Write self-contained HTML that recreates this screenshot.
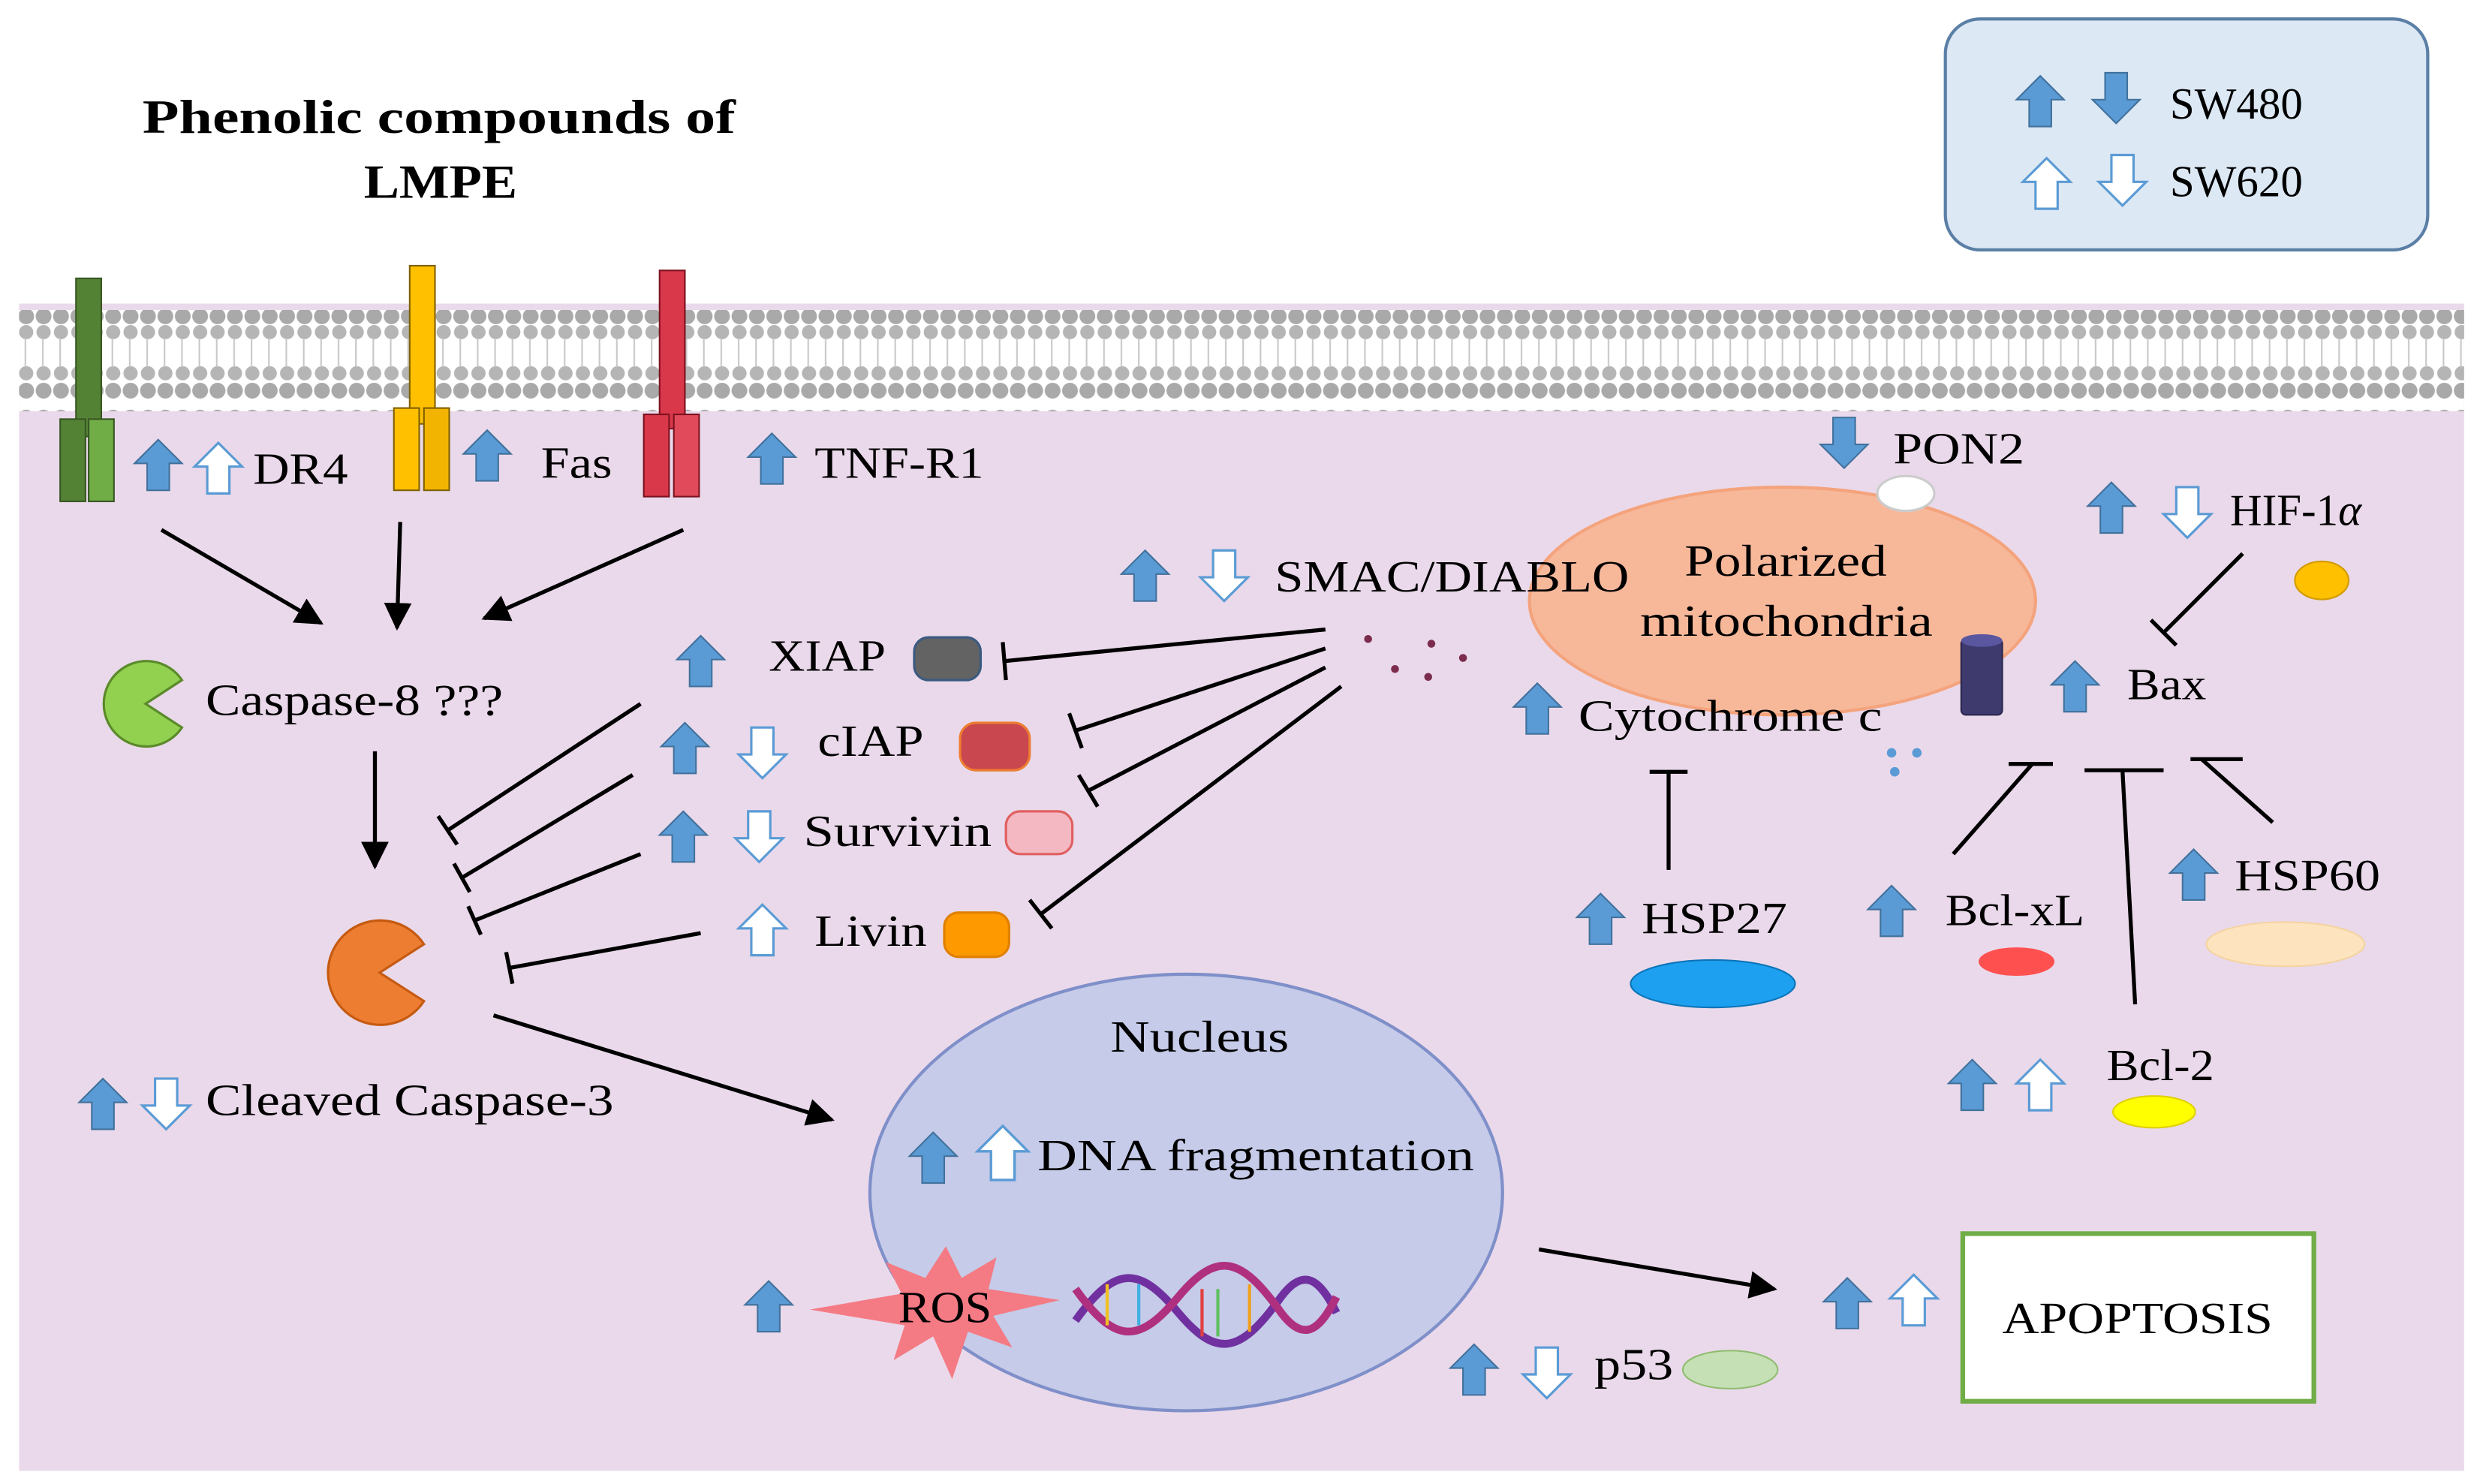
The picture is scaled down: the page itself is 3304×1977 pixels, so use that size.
<!DOCTYPE html>
<html><head><meta charset="utf-8"><style>html,body{margin:0;padding:0;background:#fff}svg{display:block}</style></head>
<body>
<svg width="3304" height="1977" viewBox="0 0 1568 938.3" xmlns="http://www.w3.org/2000/svg" font-family="Liberation Serif, serif">
<defs>
<symbol id="ub" viewBox="0 0 30 32" overflow="visible"><polygon points="15,0 30,15 22,15 22,32 8,32 8,15 0,15" fill="#5b9bd5" stroke="#41719c" stroke-width="1"/></symbol>
<symbol id="db" viewBox="0 0 30 32" overflow="visible"><polygon points="15,32 30,17 22,17 22,0 8,0 8,17 0,17" fill="#5b9bd5" stroke="#41719c" stroke-width="1"/></symbol>
<symbol id="uw" viewBox="0 0 30 32" overflow="visible"><polygon points="15,0 30,15 22,15 22,32 8,32 8,15 0,15" fill="#fff" stroke="#5b9bd5" stroke-width="1.5"/></symbol>
<symbol id="dw" viewBox="0 0 30 32" overflow="visible"><polygon points="15,32 30,17 22,17 22,0 8,0 8,17 0,17" fill="#fff" stroke="#5b9bd5" stroke-width="1.5"/></symbol>
<marker id="ah" viewBox="0 0 10 10" refX="9" refY="5" markerWidth="7" markerHeight="7" orient="auto"><path d="M0,0 L10,5 L0,10 z" fill="#000"/></marker>
<pattern id="lip" width="11" height="64" patternUnits="userSpaceOnUse">
<circle cx="5.5" cy="8" r="5" fill="#a9a9a9"/><circle cx="5.5" cy="18" r="4.5" fill="#b5b5b5"/><circle cx="5.5" cy="44" r="4.5" fill="#b5b5b5"/><circle cx="5.5" cy="55" r="5" fill="#a9a9a9"/>
<line x1="5" y1="22" x2="5" y2="40" stroke="#c8c8c8" stroke-width="1"/>
</pattern>
</defs>
<rect x="12" y="192" width="1546" height="738" fill="#ead9ea"/>
<rect x="12" y="196" width="1546" height="64" fill="#fff"/>
<rect x="12" y="196" width="1546" height="64" fill="url(#lip)"/>
<text x="90" y="84" font-size="30" font-weight="bold" textLength="375" lengthAdjust="spacingAndGlyphs">Phenolic compounds of</text>
<text x="230" y="125" font-size="30" font-weight="bold" textLength="97" lengthAdjust="spacingAndGlyphs">LMPE</text>
<rect x="1230" y="12" width="305" height="146" rx="22" fill="#dce8f4" stroke="#5b7fa6" stroke-width="2"/>
<use href="#ub" x="1275" y="48" width="30" height="32"/><use href="#db" x="1323" y="46" width="30" height="32"/>
<use href="#uw" x="1279" y="100" width="30" height="32"/><use href="#dw" x="1327" y="98" width="30" height="32"/>
<text x="1372" y="75" font-size="28">SW480</text><text x="1372" y="124" font-size="28">SW620</text>
<g stroke="#385723" stroke-width="1"><rect x="48" y="176" width="16" height="100" fill="#548235"/><rect x="38" y="265" width="16" height="52" fill="#548235"/><rect x="56" y="265" width="16" height="52" fill="#70ad47"/></g>
<g stroke="#7f6000" stroke-width="1"><rect x="259" y="168" width="16" height="100" fill="#ffc000"/><rect x="249" y="258" width="16" height="52" fill="#ffc000"/><rect x="268" y="258" width="16" height="52" fill="#f2b400"/></g>
<g stroke="#7b1220" stroke-width="1"><rect x="417" y="171" width="16" height="100" fill="#d9384a"/><rect x="407" y="262" width="16" height="52" fill="#d9384a"/><rect x="426" y="262" width="16" height="52" fill="#e04a5a"/></g>
<g font-size="28">
<use href="#ub" x="85" y="278" width="30" height="32"/><use href="#uw" x="123" y="280" width="30" height="32"/><text x="160" y="306" textLength="60" lengthAdjust="spacingAndGlyphs">DR4</text>
<use href="#ub" x="293" y="272" width="30" height="32"/><text x="342" y="302" textLength="45" lengthAdjust="spacingAndGlyphs">Fas</text>
<use href="#ub" x="473" y="274" width="30" height="32"/><text x="515" y="302" textLength="107" lengthAdjust="spacingAndGlyphs">TNF-R1</text>
</g>
<g stroke="#000" stroke-width="2.5" fill="none">
<line x1="102" y1="335" x2="203" y2="394" marker-end="url(#ah)"/>
<line x1="253" y1="330" x2="251" y2="397" marker-end="url(#ah)"/>
<line x1="432" y1="335" x2="306" y2="391" marker-end="url(#ah)"/>
<line x1="237" y1="475" x2="237" y2="548" marker-end="url(#ah)"/>
<line x1="312" y1="642" x2="526" y2="708" marker-end="url(#ah)"/>
<line x1="973" y1="790" x2="1122" y2="815" marker-end="url(#ah)"/>
</g>
<path d="M92,445 L115,430 A27,27 0 1 0 115,460 Z" fill="#92d050" stroke="#5a8a2a" stroke-width="1.5"/>
<text x="130" y="452" font-size="28" textLength="188" lengthAdjust="spacingAndGlyphs">Caspase-8 ???</text>
<path d="M240,615 L268,597 A33,33 0 1 0 268,633 Z" fill="#ed7d31" stroke="#c55a11" stroke-width="1.5"/>
<use href="#ub" x="50" y="682" width="30" height="32"/><use href="#dw" x="90" y="682" width="30" height="32"/>
<text x="130" y="705" font-size="28" textLength="258" lengthAdjust="spacingAndGlyphs">Cleaved Caspase-3</text>
<g font-size="28">
<use href="#ub" x="428" y="402" width="30" height="32"/><text x="486" y="424" textLength="74" lengthAdjust="spacingAndGlyphs">XIAP</text>
<rect x="578" y="403" width="42" height="27" rx="9" fill="#636363" stroke="#3b5a80" stroke-width="1.5"/>
<use href="#ub" x="418" y="457" width="30" height="32"/><use href="#dw" x="467" y="460" width="30" height="32"/><text x="517" y="478" textLength="67" lengthAdjust="spacingAndGlyphs">cIAP</text>
<rect x="607" y="457" width="44" height="30" rx="10" fill="#c9474f" stroke="#ed7d31" stroke-width="1.5"/>
<use href="#ub" x="417" y="513" width="30" height="32"/><use href="#dw" x="465" y="513" width="30" height="32"/><text x="508" y="535" textLength="119" lengthAdjust="spacingAndGlyphs">Survivin</text>
<rect x="636" y="513" width="42" height="27" rx="9" fill="#f4b8c3" stroke="#e06060" stroke-width="1.5"/>
<use href="#uw" x="467" y="572" width="30" height="32"/><text x="515" y="598" textLength="71" lengthAdjust="spacingAndGlyphs">Livin</text>
<rect x="597" y="577" width="41" height="28" rx="9" fill="#ff9900" stroke="#e08000" stroke-width="1.5"/>
<use href="#ub" x="709" y="348" width="30" height="32"/><use href="#dw" x="759" y="348" width="30" height="32"/>
</g>
<g fill="#7b2c4c"><circle cx="865" cy="404" r="2.5"/><circle cx="882" cy="423" r="2.5"/><circle cx="905" cy="407" r="2.5"/><circle cx="903" cy="428" r="2.5"/><circle cx="925" cy="416" r="2.5"/></g>
<g stroke="#000" stroke-width="2.5" fill="none">
<path d="M405,445 L283,525 M277,516 L289,534"/>
<path d="M400,490 L292,555 M287,546 L297,564"/>
<path d="M405,540 L300,582 M296,573 L304,591"/>
<path d="M443,590 L322,612 M320,602 L324,622"/>
<path d="M838,398 L635,418 M634,406 L636,430"/>
<path d="M838,410 L680,462 M676,451 L684,473"/>
<path d="M838,422 L688,500 M682,490 L694,510"/>
<path d="M848,434 L658,578 M651,569 L665,587"/>
</g>
<ellipse cx="1127" cy="380" rx="160" ry="72" fill="#f7b89a" stroke="#f4a37c" stroke-width="2"/>
<text x="806" y="374" font-size="28" textLength="224" lengthAdjust="spacingAndGlyphs">SMAC/DIABLO</text>
<text x="1065" y="364" font-size="28" textLength="128" lengthAdjust="spacingAndGlyphs">Polarized</text>
<text x="1037" y="402" font-size="28" textLength="185" lengthAdjust="spacingAndGlyphs">mitochondria</text>
<use href="#db" x="1151" y="262" width="30" height="36"/><text x="1197" y="293" font-size="28" textLength="83" lengthAdjust="spacingAndGlyphs">PON2</text>
<ellipse cx="1205" cy="312" rx="18" ry="11" fill="#fff" stroke="#ccc" stroke-width="1.5"/>
<use href="#ub" x="957" y="432" width="30" height="32"/><text x="998" y="462" font-size="28" textLength="192" lengthAdjust="spacingAndGlyphs">Cytochrome c</text>
<g fill="#5b9bd5"><circle cx="1196" cy="476" r="3"/><circle cx="1212" cy="476" r="3"/><circle cx="1198" cy="488" r="3"/></g>
<rect x="1240" y="404" width="26" height="48" rx="3" fill="#3e3a6e" stroke="#2a2850"/>
<ellipse cx="1253" cy="405" rx="13" ry="4" fill="#5a56a0"/>
<g stroke="#000" stroke-width="2.5" fill="none">
<path d="M1055,550 L1055,488 M1043,488 L1067,488"/>
<path d="M1418,350 L1368,400 M1360,392 L1376,408"/>
<path d="M1235,540 L1285,483 M1270,483 L1298,483"/>
<path d="M1350,635 L1342,487 M1318,487 L1368,487"/>
<path d="M1437,520 L1392,480 M1385,480 L1418,480"/>
</g>
<g font-size="28">
<use href="#ub" x="997" y="565" width="30" height="32"/><text x="1038" y="590" textLength="92" lengthAdjust="spacingAndGlyphs">HSP27</text>
<use href="#ub" x="1297" y="418" width="30" height="32"/><text x="1345" y="442" textLength="50" lengthAdjust="spacingAndGlyphs">Bax</text>
<use href="#ub" x="1320" y="305" width="30" height="32"/><use href="#dw" x="1368" y="308" width="30" height="32"/><text x="1410" y="332">HIF-1<tspan font-style="italic">α</tspan></text>
<use href="#ub" x="1181" y="560" width="30" height="32"/><text x="1230" y="585" textLength="88" lengthAdjust="spacingAndGlyphs">Bcl-xL</text>
<use href="#ub" x="1232" y="670" width="30" height="32"/><use href="#uw" x="1275" y="670" width="30" height="32"/><text x="1332" y="683" textLength="68" lengthAdjust="spacingAndGlyphs">Bcl-2</text>
<use href="#ub" x="1372" y="537" width="30" height="32"/><text x="1413" y="563" textLength="92" lengthAdjust="spacingAndGlyphs">HSP60</text>
</g>
<ellipse cx="1083" cy="622" rx="52" ry="15" fill="#1ea0f0" stroke="#0b74b8"/>
<ellipse cx="1468" cy="367" rx="17" ry="12" fill="#ffc000" stroke="#d29a00"/>
<ellipse cx="1275" cy="608" rx="24" ry="9" fill="#ff5050"/>
<ellipse cx="1362" cy="703" rx="26" ry="10" fill="#ffff00" stroke="#e0d000"/>
<ellipse cx="1445" cy="597" rx="50" ry="14" fill="#fde4bf" stroke="#f5d3a0"/>
<ellipse cx="750" cy="754" rx="200" ry="138" fill="#c5cbe8" stroke="#7f8fc9" stroke-width="2"/>
<text x="702" y="665" font-size="28" textLength="113" lengthAdjust="spacingAndGlyphs">Nucleus</text>
<use href="#ub" x="575" y="716" width="30" height="32"/><use href="#uw" x="618" y="711" width="32" height="36"/>
<text x="656" y="740" font-size="28" textLength="276" lengthAdjust="spacingAndGlyphs">DNA fragmentation</text>
<polygon points="598,788 608,808 630,795 625,815 670,822 628,832 640,852 612,842 602,872 590,845 565,860 572,838 512,828 570,818 560,798 585,808" fill="#f47a84"/>
<text x="568" y="836" font-size="28" textLength="59" lengthAdjust="spacingAndGlyphs">ROS</text>
<use href="#ub" x="471" y="810" width="30" height="32"/>
<g fill="none" stroke-width="5">
<path d="M680,835 C705,800 720,800 745,830 C770,860 785,855 810,820 C825,800 835,810 845,830" stroke="#7030a0"/>
<path d="M680,815 C705,850 720,850 745,820 C770,790 785,795 810,830 C825,850 835,840 845,820" stroke="#b03080"/>
</g>
<g stroke-width="2"><line x1="700" y1="812" x2="700" y2="838" stroke="#f0c020"/><line x1="720" y1="812" x2="720" y2="838" stroke="#40b0e0"/><line x1="770" y1="815" x2="770" y2="845" stroke="#60c060"/><line x1="790" y1="812" x2="790" y2="842" stroke="#f0a020"/><line x1="760" y1="815" x2="760" y2="845" stroke="#e04040"/></g>
<rect x="1241" y="780" width="222" height="106" fill="#fff" stroke="#70ad47" stroke-width="3"/>
<text x="1266" y="843" font-size="28" textLength="171" lengthAdjust="spacingAndGlyphs">APOPTOSIS</text>
<use href="#ub" x="1153" y="808" width="30" height="32"/><use href="#uw" x="1195" y="806" width="30" height="32"/>
<use href="#ub" x="917" y="850" width="30" height="32"/><use href="#dw" x="963" y="852" width="30" height="32"/>
<text x="1008" y="872" font-size="28" textLength="50" lengthAdjust="spacingAndGlyphs">p53</text>
<ellipse cx="1094" cy="866" rx="30" ry="12" fill="#c5e0b4" stroke="#8fbc70"/>
</svg>
</body></html>
